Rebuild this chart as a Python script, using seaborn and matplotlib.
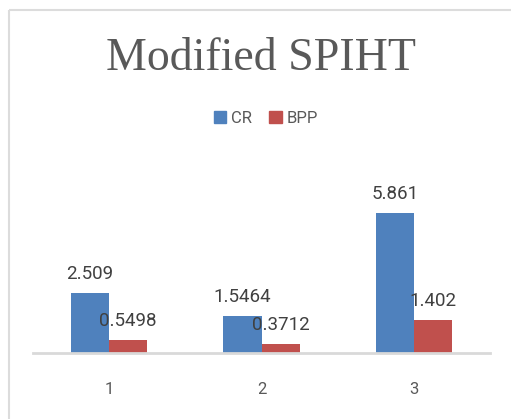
import matplotlib
matplotlib.use("Agg")
import matplotlib.pyplot as plt
import matplotlib.patches as mpatches
import seaborn as sns
import pandas as pd

# values
categories = ["1", "2", "3"]
cr_values = [2.509, 1.5464, 5.861]
bpp_values = [0.5498, 0.3712, 1.402]
cr_labels = ["2.509", "1.5464", "5.861"]
bpp_labels = ["0.5498", "0.3712", "1.402"]

df = pd.DataFrame({
    "test": categories * 2,
    "value": cr_values + bpp_values,
    "metric": ["CR"] * 3 + ["BPP"] * 3,
})

sns.set_style("white")
plt.rcParams["font.family"] = ["Roboto", "DejaVu Sans"]

fig = plt.figure(figsize=(5.11, 4.19), dpi=100)
ax = fig.add_axes([33 / 511, 66 / 419, 457 / 511, 203 / 419])

# chart frame
fig.patches.append(mpatches.Rectangle((9 / 511, 1 - 10 / 419), 1.2, -1.2,
                                      transform=fig.transFigure, fill=False,
                                      edgecolor="#dcdcdc", linewidth=1.5))

sns.barplot(data=df, x="test", y="value", hue="metric", ax=ax,
            palette={"CR": "#4f81bd", "BPP": "#c0504d"}, width=0.5,
            saturation=1, linewidth=0, legend=False)

for cont, labs in zip(ax.containers, [cr_labels, bpp_labels]):
    ax.bar_label(cont, labels=labs, padding=7, fontsize=13.5, color="#404040")

ax.set_xlim(-0.5, 2.5)
ax.set_ylim(0, 8.5)
ax.set_xlabel("")
ax.set_ylabel("")
ax.set_yticks([])
for s in ["top", "left", "right"]:
    ax.spines[s].set_visible(False)
ax.spines["bottom"].set_color("#d9d9d9")
ax.spines["bottom"].set_linewidth(2)
ax.set_xticks([-0.5, 0.5, 1.5, 2.5], minor=True)
ax.tick_params(axis="x", which="major", length=0, pad=21, labelsize=12, labelcolor="#595959")
ax.tick_params(axis="x", which="minor", length=5, width=2, color="#d9d9d9", direction="out")

fig.text(261 / 511, 1 - 59 / 419, "Modified SPIHT", ha="center", va="center",
         fontsize=33, color="#595959", family=["Liberation Serif", "DejaVu Serif"])

handles = [mpatches.Patch(color="#4f81bd", label="CR"),
           mpatches.Patch(color="#c0504d", label="BPP")]
leg = fig.legend(handles=handles, loc="center", bbox_to_anchor=(266 / 511, 1 - 118 / 419),
                 ncol=2, frameon=False, fontsize=12, handlelength=0.75, handleheight=0.75,
                 handletextpad=0.3, columnspacing=1.0)
for t in leg.get_texts():
    t.set_color("#595959")

fig.savefig("out.png", dpi=100)
